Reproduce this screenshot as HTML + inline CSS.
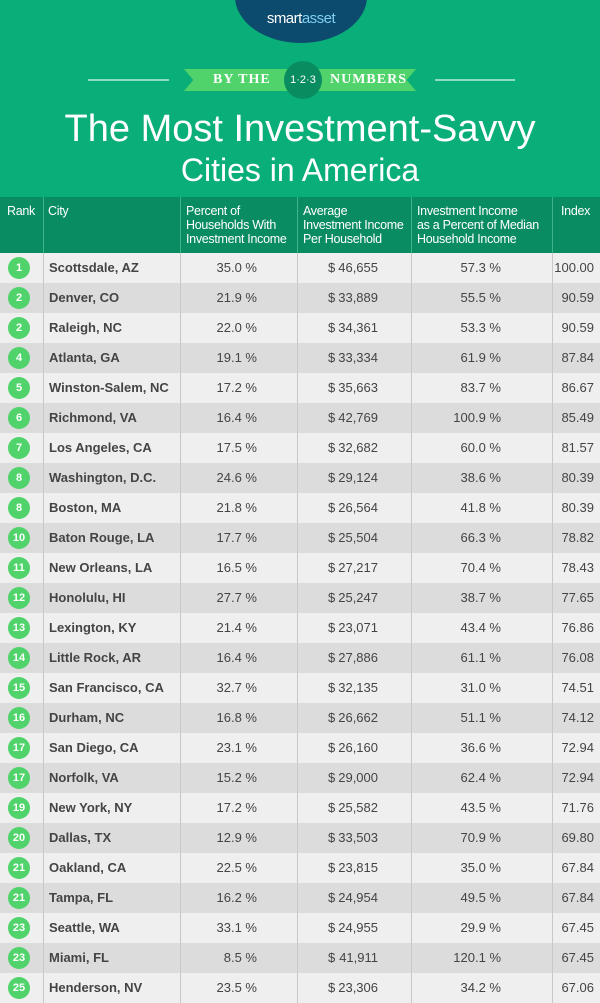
<!DOCTYPE html>
<html><head><meta charset="utf-8"><style>
*{margin:0;padding:0;box-sizing:border-box}
body{width:600px;height:1003px;overflow:hidden;background:#0aae78;font-family:"Liberation Sans",sans-serif;position:relative}
.logo{position:absolute;left:235px;top:-50px;width:132px;height:93px;border-radius:50%;background:#0c4a6e;}
.logo span{position:absolute;left:0;right:0;top:60px;text-align:center;color:#fff;font-size:15px;letter-spacing:-0.5px}
.logo b{font-weight:normal;color:#7fd0f0}
.line{position:absolute;top:79px;height:2px;background:#8fdcc0}
.ban{position:absolute;top:69px;height:22px;background:#4fd36a;color:#fff;font-family:"Liberation Serif",serif;font-weight:bold;font-size:14px;line-height:22px;letter-spacing:1px}
.badge{position:absolute;left:284px;top:61px;width:38px;height:38px;border-radius:50%;background:#098c60;color:#fff;font-size:11px;text-align:center;line-height:38px}
.t1{position:absolute;top:108px;left:0;right:0;text-align:center;color:#fff;font-size:38px;letter-spacing:0px}
.t2{position:absolute;top:152px;left:0;right:0;text-align:center;color:#fff;font-size:32px}
.hd{position:absolute;top:197px;left:0;width:600px;height:56px;background:#0a8c62}
.hd div{position:absolute;top:7px;color:#fff;font-size:12.5px;line-height:14px;letter-spacing:-0.3px}
.vl{position:absolute;top:197px;width:1px;height:56px;background:#3fb38a}
.row{position:absolute;left:0;width:600px;height:30px;font-size:13px;color:#444;line-height:30px}
.row span{position:absolute}
.c{left:8px;top:4px;width:22px;height:22px;border-radius:50%;background:#4fd36a;color:#fff;font-weight:bold;font-size:11px;line-height:22px;text-align:center}
.vb{position:absolute;top:253px;width:1px;height:750px;background:#c8c8c8}
</style></head><body>
<div class="logo"><span>smart<b>asset</b></span></div>
<div class="line" style="left:88px;width:81px"></div>
<div class="line" style="left:435px;width:80px"></div>
<div class="ban" style="left:184px;width:232px;clip-path:polygon(0 0,100% 0,96% 50%,100% 100%,0 100%,4% 50%)"><span style="position:absolute;left:29px">BY THE</span><span style="position:absolute;left:146px">NUMBERS</span></div>
<div class="badge">1·2·3</div>
<div class="t1">The Most Investment-Savvy</div>
<div class="t2">Cities in America</div>
<div class="hd">
<div style="left:7px">Rank</div><div style="left:48px">City</div>
<div style="left:186px">Percent of<br>Households With<br>Investment Income</div>
<div style="left:303px">Average<br>Investment Income<br>Per Household</div>
<div style="left:417px">Investment Income<br>as a Percent of Median<br>Household Income</div>
<div style="left:561px">Index</div></div>
<div class="vl" style="left:43px"></div><div class="vl" style="left:180px"></div><div class="vl" style="left:297px"></div><div class="vl" style="left:411px"></div><div class="vl" style="left:552px"></div>
<div id="rows"></div>
<script>
var d=[["1","Scottsdale, AZ","35.0 %","46,655","57.3 %","100.00"],["2","Denver, CO","21.9 %","33,889","55.5 %","90.59"],["2","Raleigh, NC","22.0 %","34,361","53.3 %","90.59"],["4","Atlanta, GA","19.1 %","33,334","61.9 %","87.84"],["5","Winston-Salem, NC","17.2 %","35,663","83.7 %","86.67"],["6","Richmond, VA","16.4 %","42,769","100.9 %","85.49"],["7","Los Angeles, CA","17.5 %","32,682","60.0 %","81.57"],["8","Washington, D.C.","24.6 %","29,124","38.6 %","80.39"],["8","Boston, MA","21.8 %","26,564","41.8 %","80.39"],["10","Baton Rouge, LA","17.7 %","25,504","66.3 %","78.82"],["11","New Orleans, LA","16.5 %","27,217","70.4 %","78.43"],["12","Honolulu, HI","27.7 %","25,247","38.7 %","77.65"],["13","Lexington, KY","21.4 %","23,071","43.4 %","76.86"],["14","Little Rock, AR","16.4 %","27,886","61.1 %","76.08"],["15","San Francisco, CA","32.7 %","32,135","31.0 %","74.51"],["16","Durham, NC","16.8 %","26,662","51.1 %","74.12"],["17","San Diego, CA","23.1 %","26,160","36.6 %","72.94"],["17","Norfolk, VA","15.2 %","29,000","62.4 %","72.94"],["19","New York, NY","17.2 %","25,582","43.5 %","71.76"],["20","Dallas, TX","12.9 %","33,503","70.9 %","69.80"],["21","Oakland, CA","22.5 %","23,815","35.0 %","67.84"],["21","Tampa, FL","16.2 %","24,954","49.5 %","67.84"],["23","Seattle, WA","33.1 %","24,955","29.9 %","67.45"],["23","Miami, FL","8.5 %","41,911","120.1 %","67.45"],["25","Henderson, NV","23.5 %","23,306","34.2 %","67.06"]];
var h="";d.forEach(function(r,i){h+='<div class="row" style="top:'+(253+i*30)+'px;background:'+(i%2?'#dcdcdc':'#efefef')+'"><span class="c">'+r[0]+'</span><span style="left:49px;font-weight:bold">'+r[1]+'</span><span style="right:343px">'+r[2]+'</span><span style="left:328px">$</span><span style="right:222px">'+r[3]+'</span><span style="right:99px">'+r[4]+'</span><span style="right:6px">'+r[5]+'</span></div>'});
h+='<div class="vb" style="left:43px"></div><div class="vb" style="left:180px"></div><div class="vb" style="left:297px"></div><div class="vb" style="left:411px"></div><div class="vb" style="left:552px"></div>';
document.getElementById("rows").innerHTML=h;
</script>
</body></html>
